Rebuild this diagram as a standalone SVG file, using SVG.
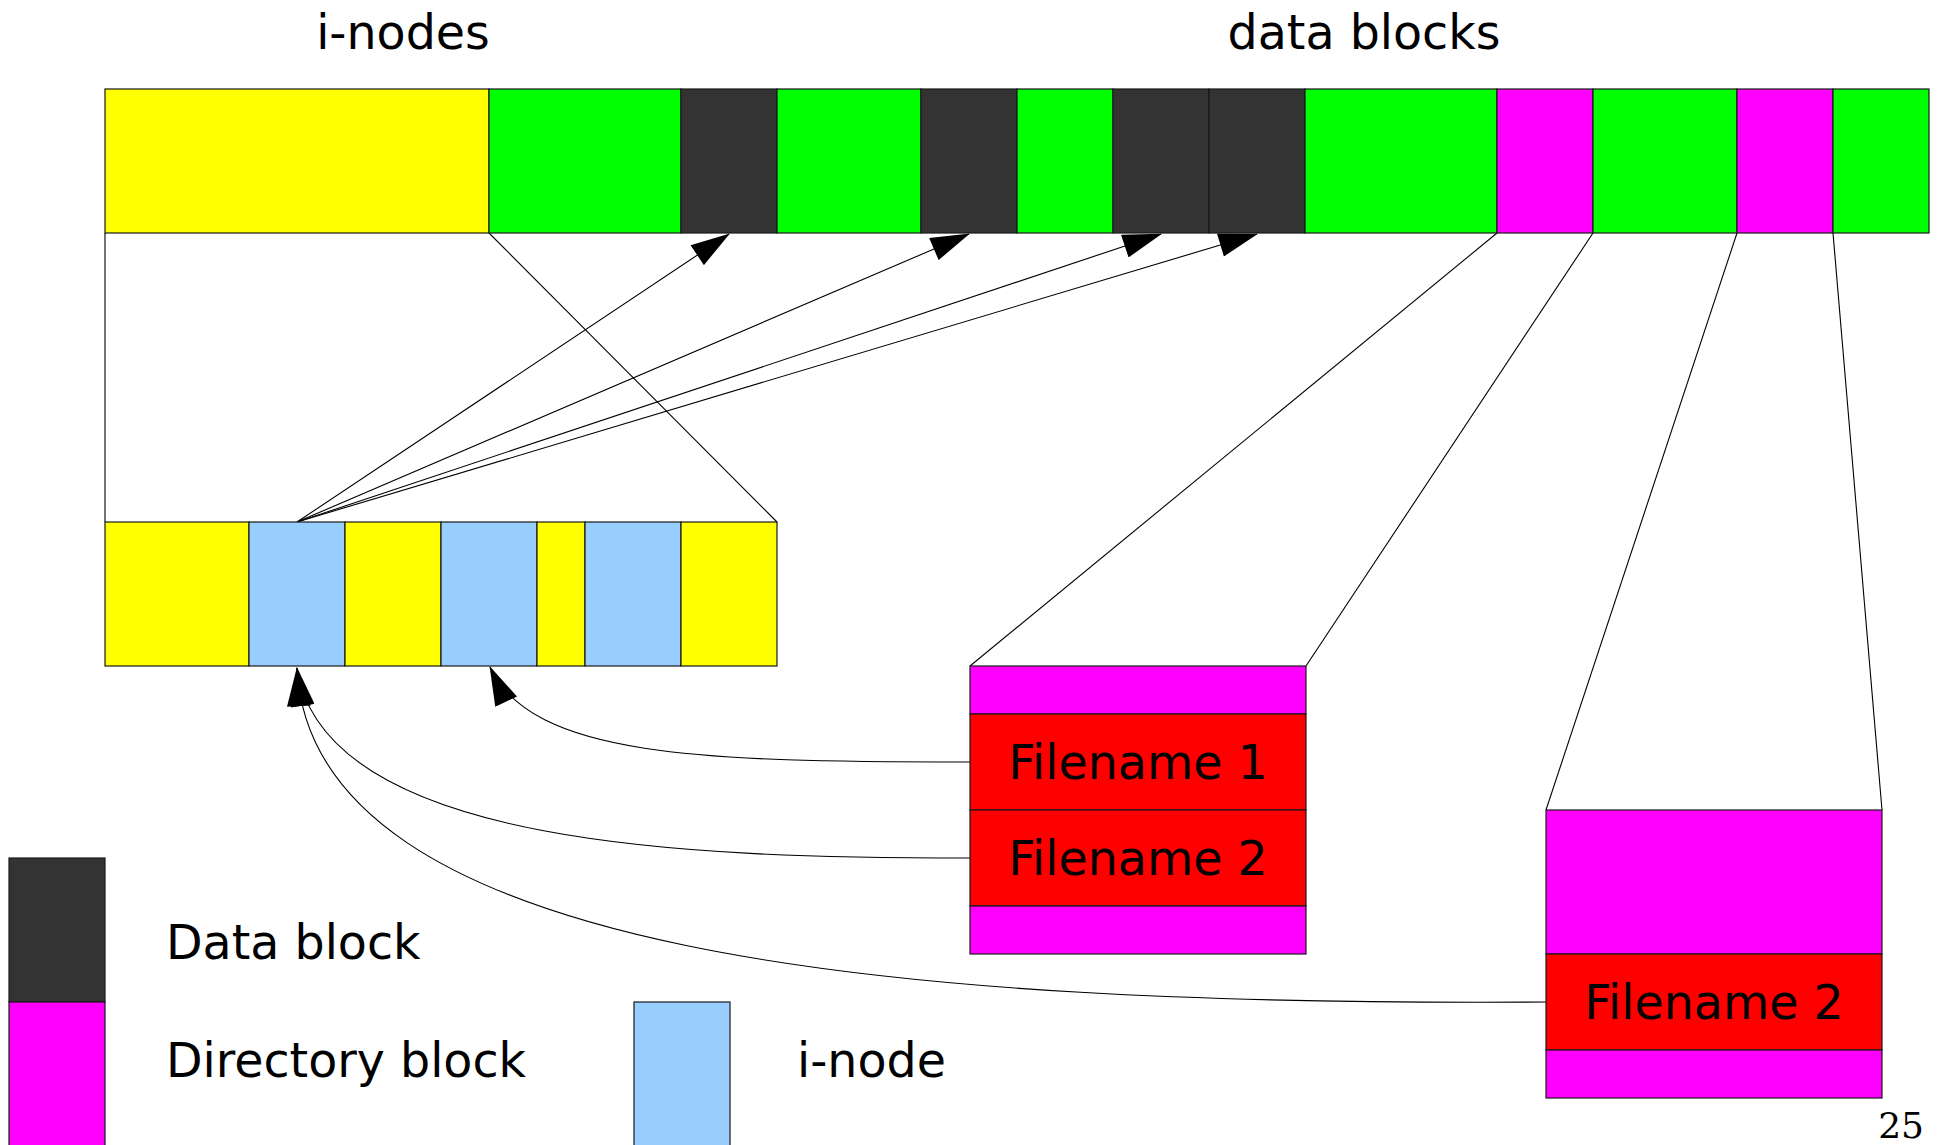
<svg xmlns="http://www.w3.org/2000/svg" width="1945" height="1145" viewBox="0 0 1945 1145">
<style>
  rect { stroke: #1a1a1a; stroke-width: 1.2; }
  .y { fill: #ffff00; }
  .g { fill: #00ff00; }
  .d { fill: #333333; }
  .m { fill: #ff00ff; }
  .r { fill: #ff0000; }
  .b { fill: #99ccff; }
  .t { font-family: "DejaVu Sans", "Liberation Sans", sans-serif; font-size: 47.5px; fill: #000; }
  .c { text-anchor: middle; }
  .ln { fill: none; stroke: #000; stroke-width: 1.1; }
  .pg { font-family: "DejaVu Serif", "Liberation Serif", serif; font-size: 36px; fill: #000; text-anchor: end; }
</style>
<defs>
  <marker id="ah" markerUnits="userSpaceOnUse" markerWidth="40" markerHeight="24" viewBox="0 0 36 22" refX="35" refY="11" orient="auto">
    <path d="M0,0 L36,11 L0,22 Z" fill="#000"/>
  </marker>
</defs>
<rect x="0" y="0" width="1945" height="1145" fill="#fff" style="stroke:none"/>

<text class="t c" x="403" y="49">i-nodes</text>
<text class="t c" x="1364" y="49">data blocks</text>

<g id="connectors">
  <line class="ln" x1="105" y1="233" x2="105" y2="522"/>
  <line class="ln" x1="489" y1="233" x2="777" y2="522"/>
  <line class="ln" x1="1497" y1="233" x2="970" y2="666"/>
  <line class="ln" x1="1593" y1="233" x2="1306" y2="666"/>
  <line class="ln" x1="1737" y1="233" x2="1546" y2="810"/>
  <line class="ln" x1="1833" y1="233" x2="1882" y2="810"/>
  <line class="ln" x1="297" y1="522" x2="729" y2="234" marker-end="url(#ah)"/>
  <line class="ln" x1="297" y1="522" x2="969" y2="234" marker-end="url(#ah)"/>
  <line class="ln" x1="297" y1="522" x2="1161" y2="234" marker-end="url(#ah)"/>
  <line class="ln" x1="297" y1="522" x2="1257" y2="234" marker-end="url(#ah)"/>
  <path class="ln" d="M970,762 C700,762 532,757 490,667" marker-end="url(#ah)"/>
  <path class="ln" d="M970,858 C700,858 324,848 297,668" marker-end="url(#ah)"/>
  <path class="ln" d="M1546,1002 C900,1006 312,958 297,668" marker-end="url(#ah)"/>
</g>

<g id="disk">
  <rect class="y" x="105" y="89" width="384" height="144"/>
  <rect class="g" x="489" y="89" width="192" height="144"/>
  <rect class="d" x="681" y="89" width="96" height="144"/>
  <rect class="g" x="777" y="89" width="144" height="144"/>
  <rect class="d" x="921" y="89" width="96" height="144"/>
  <rect class="g" x="1017" y="89" width="96" height="144"/>
  <rect class="d" x="1113" y="89" width="96" height="144"/>
  <rect class="d" x="1209" y="89" width="96" height="144"/>
  <rect class="g" x="1305" y="89" width="192" height="144"/>
  <rect class="m" x="1497" y="89" width="96" height="144"/>
  <rect class="g" x="1593" y="89" width="144" height="144"/>
  <rect class="m" x="1737" y="89" width="96" height="144"/>
  <rect class="g" x="1833" y="89" width="96" height="144"/>
</g>

<g id="inode-table">
  <rect class="y" x="105" y="522" width="144" height="144"/>
  <rect class="b" x="249" y="522" width="96" height="144"/>
  <rect class="y" x="345" y="522" width="96" height="144"/>
  <rect class="b" x="441" y="522" width="96" height="144"/>
  <rect class="y" x="537" y="522" width="48" height="144"/>
  <rect class="b" x="585" y="522" width="96" height="144"/>
  <rect class="y" x="681" y="522" width="96" height="144"/>
</g>

<g id="dir-block-1">
  <rect class="m" x="970" y="666" width="336" height="48"/>
  <rect class="r" x="970" y="714" width="336" height="96"/>
  <rect class="r" x="970" y="810" width="336" height="96"/>
  <rect class="m" x="970" y="906" width="336" height="48"/>
  <text class="t c" x="1138" y="779">Filename 1</text>
  <text class="t c" x="1138" y="875">Filename 2</text>
</g>

<g id="dir-block-2">
  <rect class="m" x="1546" y="810" width="336" height="144"/>
  <rect class="r" x="1546" y="954" width="336" height="96"/>
  <rect class="m" x="1546" y="1050" width="336" height="48"/>
  <text class="t c" x="1714" y="1019">Filename 2</text>
</g>

<g id="legend">
  <rect class="d" x="9" y="858" width="96" height="144"/>
  <rect class="m" x="9" y="1002" width="96" height="150"/>
  <rect class="b" x="634" y="1002" width="96" height="150"/>
  <text class="t" x="166" y="959">Data block</text>
  <text class="t" x="166" y="1077">Directory block</text>
  <text class="t" x="797" y="1077">i-node</text>
</g>

<text class="pg" x="1924" y="1138">25</text>
</svg>
